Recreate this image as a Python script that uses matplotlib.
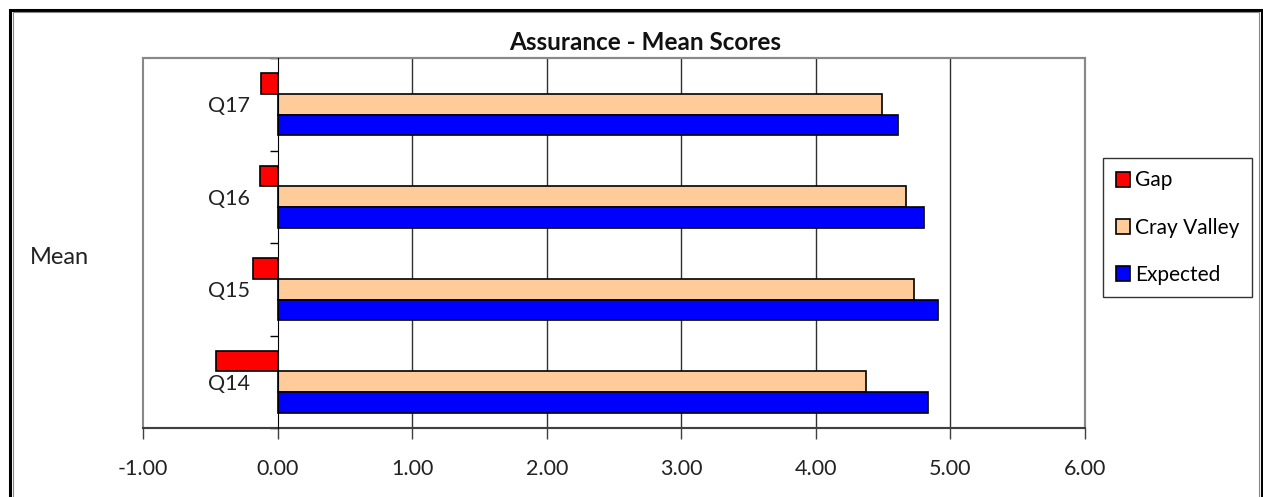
import numpy as np
import matplotlib
matplotlib.use('Agg')
import matplotlib.pyplot as plt
import matplotlib.patches as patches

plt.rcParams['font.family'] = ['Lato', 'DejaVu Sans']

questions = ['Q14', 'Q15', 'Q16', 'Q17']
expected = [4.83, 4.91, 4.80, 4.61]
cray_valley = [4.37, 4.73, 4.67, 4.49]
gap = [-0.46, -0.18, -0.13, -0.12]
xticks = [-1, 0, 1, 2, 3, 4, 5, 6]

W, H = 1263, 497
fig = plt.figure(figsize=(W/100, H/100), dpi=100)
ax = fig.add_axes([143/W, 1-428/H, (1085-143)/W, (428-58)/H])

y = np.arange(len(questions))
h = 0.222
kw = dict(height=h, edgecolor='black', linewidth=1.2, zorder=3)
ax.barh(y + h, gap, color='#ff0000', label='Gap', **kw)
ax.barh(y, cray_valley, color='#ffcc99', label='Cray Valley', **kw)
ax.barh(y - h, expected, color='#0000ff', label='Expected', **kw)

ax.set_xlim(-1, 6)
ax.set_ylim(-0.5, len(questions) - 0.5)

# vertical gridlines
for v in xticks[2:-1]:
    ax.axvline(v, color='#303030', lw=1.0, zorder=1)

ax.set_xticks(xticks)
ax.set_xticklabels(['%.2f' % v for v in xticks])
ax.tick_params(axis='x', direction='out', length=8, width=1, color='#404040',
               labelsize=15.5, pad=14, labelcolor='#222222')

# category axis sits at x = 0
ax.spines['left'].set_position(('data', 0))
ax.spines['left'].set_color('black')
ax.spines['left'].set_zorder(4)
ax.set_yticks(y)
ax.set_yticklabels(questions)
ax.set_yticks(np.arange(-0.5, len(questions)), minor=True)
ax.tick_params(axis='y', which='major', length=0, labelsize=15.5, pad=20,
               labelcolor='#222222')
ax.tick_params(axis='y', which='minor', direction='out', length=6, width=1,
               color='black')

ax.spines['bottom'].set_color('#404040')
ax.spines['bottom'].set_linewidth(1.5)
for s in ['top', 'right']:
    ax.spines[s].set_color('#888888')
    ax.spines[s].set_linewidth(1.5)
ax.add_patch(patches.Rectangle((0, 0), 1, 1, transform=ax.transAxes, fill=False,
                               edgecolor='#888888', lw=1.5, zorder=0.5, clip_on=False))

fig.text(645/W, 1-43/H, 'Assurance - Mean Scores', fontsize=17.5, fontweight='bold',
         ha='center', va='center', color='#111111')
fig.text(30/W, 1-258/H, 'Mean', fontsize=17, ha='left', va='center', color='#222222')

leg = fig.legend(loc='upper left', bbox_to_anchor=(1103/W, 1-158/H), frameon=True,
                 fancybox=False, edgecolor='black', fontsize=15, handlelength=0.7,
                 handleheight=0.7, handletextpad=0.25, labelspacing=1.3,
                 borderpad=0.6, borderaxespad=0)
leg.get_frame().set_linewidth(1.0)

# outer chart frame
fig.patches.append(patches.Rectangle((9.5/W, -0.1), (1261.5-9.5)/W, 1.1 - 9.5/H,
                                     transform=fig.transFigure, fill=False,
                                     edgecolor='black', lw=2.2))
fig.patches.append(patches.Rectangle((12.5/W, -0.1), (1258.5-12.5)/W, 1.1 - 12/H,
                                     transform=fig.transFigure, fill=False,
                                     edgecolor='#888888', lw=0.8))

fig.savefig('out.png', dpi=100)
